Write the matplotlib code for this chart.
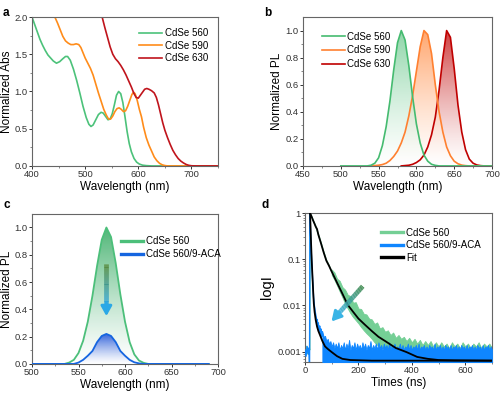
import numpy as np
import matplotlib
matplotlib.use('Agg')
import matplotlib.pyplot as plt
import matplotlib.colors as mcolors
from matplotlib.collections import LineCollection

plt.rcParams['font.family'] = ['Liberation Sans', 'DejaVu Sans']
plt.rcParams['font.size'] = 6.5

# ---- panel a: absorbance ----
a560_x = [400, 405, 410, 415, 420, 425, 430, 435, 440, 446, 452, 458, 463, 467, 472, 478, 484, 490, 496,
          502, 507, 511, 515, 520, 525, 530, 534, 538, 543, 547, 551, 555, 559, 563, 567, 571, 575, 579,
          583, 587, 592, 597, 602, 608, 615, 625, 650, 700, 750]
a560_y = [2.0, 1.9, 1.8, 1.7, 1.62, 1.55, 1.49, 1.45, 1.41, 1.38, 1.40, 1.44, 1.47, 1.47, 1.42, 1.30, 1.15,
          0.98, 0.80, 0.65, 0.56, 0.53, 0.55, 0.62, 0.69, 0.72, 0.71, 0.67, 0.62, 0.63, 0.70, 0.82, 0.95,
          1.00, 0.97, 0.85, 0.66, 0.46, 0.30, 0.19, 0.10, 0.05, 0.025, 0.01, 0.004, 0.0, 0.0, 0.0, 0.0]
a590_x = [443, 448, 453, 458, 463, 468, 473, 478, 483, 488, 492, 496, 500, 505, 510, 515, 520, 525, 530,
          535, 540, 544, 548, 552, 556, 560, 564, 568, 572, 576, 580, 584, 588, 591, 594, 598, 602, 606,
          610, 615, 620, 625, 630, 635, 640, 645, 650, 655, 700, 750]
a590_y = [2.0, 1.92, 1.83, 1.74, 1.68, 1.65, 1.63, 1.63, 1.64, 1.63, 1.59, 1.52, 1.45, 1.38, 1.31, 1.22,
          1.10, 0.98, 0.87, 0.76, 0.68, 0.63, 0.63, 0.67, 0.73, 0.77, 0.78, 0.76, 0.73, 0.74, 0.80, 0.88,
          0.96, 0.99, 0.97, 0.88, 0.76, 0.66, 0.52, 0.38, 0.28, 0.20, 0.12, 0.07, 0.035, 0.015, 0.005,
          0.0, 0.0, 0.0]
a630_x = [532, 537, 542, 547, 552, 557, 562, 567, 572, 577, 582, 587, 592, 596, 600, 604, 608, 612, 616,
          620, 625, 630, 634, 638, 642, 646, 650, 655, 660, 665, 670, 675, 680, 685, 690, 695, 700, 710, 750]
a630_y = [2.0, 1.86, 1.73, 1.60, 1.50, 1.44, 1.40, 1.35, 1.29, 1.22, 1.14, 1.06, 0.97, 0.92, 0.91, 0.95,
          0.99, 1.03, 1.04, 1.03, 1.01, 0.98, 0.92, 0.82, 0.70, 0.58, 0.48, 0.38, 0.29, 0.21, 0.15, 0.10,
          0.065, 0.04, 0.02, 0.008, 0.002, 0.0, 0.0]

# ---- panel b: PL ----
b560_x = [500, 535, 540, 545, 550, 555, 560, 565, 570, 575, 580, 585, 590, 595, 600, 605, 610, 615, 620, 625, 630, 700]
b560_y = [0, 0, 0.005, 0.02, 0.06, 0.15, 0.29, 0.48, 0.71, 0.91, 1.0, 0.93, 0.74, 0.51, 0.31, 0.17, 0.08,
          0.035, 0.012, 0.004, 0, 0]
b590_x = [540, 550, 555, 560, 565, 570, 575, 580, 585, 590, 595, 600, 605, 610, 615, 620, 625, 630, 635,
          640, 645, 650, 655, 660, 665, 670, 700]
b590_y = [0, 0.005, 0.01, 0.02, 0.04, 0.07, 0.11, 0.17, 0.25, 0.37, 0.52, 0.70, 0.88, 1.0, 0.97, 0.83,
          0.60, 0.40, 0.25, 0.14, 0.075, 0.035, 0.016, 0.006, 0.002, 0, 0]
b630_x = [580, 590, 595, 600, 605, 610, 615, 620, 625, 630, 635, 640, 645, 650, 655, 660, 665, 670, 675,
          680, 685, 690, 700]
b630_y = [0, 0.005, 0.012, 0.025, 0.045, 0.08, 0.14, 0.23, 0.36, 0.56, 0.80, 1.0, 0.95, 0.72, 0.45, 0.25,
          0.12, 0.05, 0.02, 0.007, 0.002, 0, 0]

# ---- panel c: quenching ----
c560_x = [500, 535, 540, 545, 550, 555, 560, 565, 570, 575, 580, 585, 590, 595, 600, 605, 610, 615, 620, 625, 690]
c560_y = [0, 0, 0.01, 0.03, 0.08, 0.17, 0.31, 0.50, 0.72, 0.91, 1.0, 0.93, 0.74, 0.51, 0.31, 0.16, 0.07,
          0.025, 0.008, 0, 0]
caca_x = [500, 545, 550, 555, 560, 565, 570, 575, 580, 585, 590, 595, 600, 605, 610, 615, 620, 690]
caca_y = [0, 0, 0.01, 0.03, 0.06, 0.095, 0.16, 0.205, 0.22, 0.205, 0.16, 0.095, 0.06, 0.03, 0.012, 0.004, 0, 0]

# ---- panel d: decay ----
# CdSe 560: rise + early decay, then noisy band (upper / lower edge)
d560_t = [0, 5, 10, 15, 18, 19, 25, 30, 40, 50, 60, 70, 80, 90, 100]
d560_I = [0.0010, 0.0013, 0.0009, 0.0012, 0.0011, 1.0, 0.84, 0.71, 0.52, 0.35, 0.23, 0.145, 0.097, 0.074, 0.054]
d560_bt = [100, 110, 120, 130, 140, 150, 160, 170, 180, 190, 200, 210, 220, 230, 240, 250, 260, 270, 280,
           290, 300, 310, 320, 330, 340, 350, 360, 370, 380, 390, 400, 410, 420, 430, 440, 450, 460, 470,
           480, 490, 500, 510, 520, 530, 540, 550, 560, 570, 580, 590, 600, 610, 620, 630, 640, 650, 660,
           670, 680, 690, 700]
d560_hi = [0.060, 0.052, 0.038, 0.034, 0.025, 0.022, 0.017, 0.016, 0.0115, 0.0118, 0.0086, 0.0084,
           0.0066, 0.0064, 0.0052, 0.0050, 0.0040, 0.0043, 0.0032, 0.0034, 0.0027, 0.0029, 0.0023, 0.0026,
           0.0020, 0.0023, 0.0019, 0.0021, 0.0017, 0.0020, 0.0016, 0.0019, 0.0015, 0.0018, 0.0014, 0.0017,
           0.0014, 0.0017, 0.0013, 0.0016, 0.0013, 0.0016, 0.0013, 0.0015, 0.0012, 0.0016, 0.0013, 0.0015,
           0.0012, 0.0016, 0.0013, 0.0015, 0.0012, 0.0015, 0.0013, 0.0016, 0.0012, 0.0015, 0.0013, 0.0015,
           0.0012]
d560_lo = [0.046, 0.036, 0.027, 0.020, 0.015, 0.011, 0.0086, 0.0068, 0.0056, 0.0048, 0.0041, 0.0034,
           0.0029, 0.0025, 0.0022, 0.0019, 0.0016, 0.0014, 0.0013, 0.0012, 0.0012, 0.0011, 0.0011, 0.0010,
           0.0010, 0.0010, 0.0009, 0.0009, 0.0009, 0.0009, 0.0009, 0.0009, 0.0009, 0.0009, 0.0009, 0.0009,
           0.0009, 0.0009, 0.0009, 0.0009, 0.0009, 0.0009, 0.0009, 0.0009, 0.0009, 0.0009, 0.0009, 0.0009,
           0.0009, 0.0009, 0.0009, 0.0009, 0.0009, 0.0009, 0.0009, 0.0009, 0.0009, 0.0009, 0.0009, 0.0009,
           0.0009]
# CdSe 560/9-ACA: spike + fast decay, then noise floor (upper edge)
daca_t = [0, 4, 8, 12, 15, 17, 18.5, 20, 22, 24, 26, 28, 30, 32, 35, 38, 42, 44, 46, 48, 50, 52, 55, 58,
          60, 63, 65]
daca_I = [0.0011, 0.0008, 0.0013, 0.0009, 0.0012, 0.0004, 1.0, 0.5, 0.22, 0.12, 0.07, 0.04, 0.025, 0.015,
          0.010, 0.0075, 0.0055, 0.0038, 0.0050, 0.0032, 0.0042, 0.0027, 0.0036, 0.0024, 0.0031, 0.0021,
          0.0027]
daca_bt = list(range(65, 701, 5))
daca_hi = [0.0027, 0.0021, 0.0022, 0.0017, 0.0019, 0.0015, 0.0017, 0.0013, 0.0016,
           0.0012, 0.0015, 0.0012, 0.0016, 0.0011, 0.0014, 0.0012, 0.0016, 0.0011, 0.0015, 0.0012, 0.0018,
           0.0011, 0.0014, 0.0012, 0.0016, 0.0011, 0.0015, 0.0012, 0.0014, 0.0011, 0.0016, 0.0012, 0.0015,
           0.0011, 0.0014, 0.0012, 0.0017, 0.0011, 0.0014, 0.0012, 0.0015, 0.0011, 0.0016, 0.0012, 0.0014,
           0.0011, 0.0015, 0.0012, 0.0014, 0.0011, 0.0016, 0.0011, 0.0014, 0.0012, 0.0015, 0.0011, 0.0013,
           0.0012, 0.0015, 0.0011, 0.0014, 0.0011, 0.0013, 0.0012, 0.0015, 0.0011, 0.0014, 0.0011, 0.0013,
           0.0012, 0.0014, 0.0011, 0.0015, 0.0011, 0.0013, 0.0012, 0.0014, 0.0011, 0.0013, 0.0011, 0.0014,
           0.0012, 0.0013, 0.0011, 0.0015, 0.0011, 0.0013, 0.0012, 0.0014, 0.0011, 0.0013, 0.0011, 0.0014,
           0.0012, 0.0013, 0.0011, 0.0014, 0.0011, 0.0013, 0.0012, 0.0014, 0.0011, 0.0013, 0.0011, 0.0014,
           0.0012, 0.0013, 0.0011, 0.0014, 0.0011, 0.0013, 0.0012, 0.0014, 0.0011, 0.0013, 0.0011, 0.0014,
           0.0012, 0.0013, 0.0011, 0.0014, 0.0011, 0.0013, 0.0012, 0.0014, 0.0011, 0.0013, 0.0011]
fit560_t = [19, 25, 30, 35, 40, 45, 50, 60, 70, 80, 90, 100, 120, 140, 160, 180, 200, 225, 250, 275, 300,
            340, 380, 420, 460, 500, 560, 700]
fit560_I = [1.0, 0.83, 0.70, 0.60, 0.51, 0.45, 0.34, 0.22, 0.14, 0.093, 0.072, 0.054, 0.031, 0.018, 0.0103,
            0.0073, 0.0052, 0.0038, 0.0028, 0.0021, 0.0017, 0.0012, 0.00098, 0.00077, 0.0007, 0.00066,
            0.00065, 0.00064]
fitaca_t = [19, 21, 23, 25, 27, 29, 31, 33, 36, 40, 45, 50, 56, 65, 75, 85, 100, 120, 140, 170, 250, 700]
fitaca_I = [1.0, 0.45, 0.2, 0.1, 0.055, 0.032, 0.018, 0.011, 0.0072, 0.0049, 0.0035, 0.0028, 0.0023,
            0.0017, 0.0013, 0.00115, 0.00098, 0.0008, 0.0007, 0.00066, 0.00064, 0.00064]


def grad_fill(ax, x, y, color, alpha=0.75, zorder=2):
    x = np.asarray(x, float)
    y = np.asarray(y, float)
    rgb = np.array(mcolors.to_rgb(color))
    t = np.linspace(0, 1, 256)[:, None] ** 1.3
    img = np.zeros((256, 1, 4))
    img[:, 0, :3] = 1 - t * (1 - rgb)
    img[:, 0, 3] = alpha
    im = ax.imshow(img, aspect='auto', origin='lower', interpolation='bilinear',
                   extent=[x.min(), x.max(), 0, y.max()], zorder=zorder)
    poly = ax.fill_between(x, y, 0, facecolor='none', edgecolor='none')
    im.set_clip_path(poly.get_paths()[0], transform=ax.transData)


def grad_arrow(ax, x0, y0, x1, y1, c0, c1, logy=False, lw=3.2, hw=0.45, hl=0.7, zorder=6):
    n = 40
    s = np.linspace(0, 0.8, n)
    xs = x0 + (x1 - x0) * s
    if logy:
        ys = 10 ** (np.log10(y0) + (np.log10(y1) - np.log10(y0)) * s)
    else:
        ys = y0 + (y1 - y0) * s
    pts = np.column_stack([xs, ys])
    segs = np.stack([pts[:-1], pts[1:]], axis=1)
    cols = [tuple(np.array(mcolors.to_rgb(c0)) * (1 - u) + np.array(mcolors.to_rgb(c1)) * u)
            for u in np.linspace(0, 1, n - 1)]
    ax.add_collection(LineCollection(segs, colors=cols, linewidths=lw, zorder=zorder, capstyle='butt'))
    ax.annotate('', xy=(x1, y1), xytext=(xs[-4], ys[-4]), zorder=zorder,
                arrowprops=dict(arrowstyle='-|>,head_length=%g,head_width=%g' % (hl, hw),
                                color=c1, lw=lw * 0.6, shrinkA=0, shrinkB=0))


def style(ax):
    for sp in ax.spines.values():
        sp.set_color('#666666')
        sp.set_linewidth(0.8)
    ax.tick_params(direction='out', length=2.0, width=0.7, colors='#333333', labelsize=6.8, pad=1.0)
    ax.tick_params(which='minor', direction='out', length=1.2, width=0.5, colors='#555555')


fig = plt.figure(figsize=(5.0, 3.96), dpi=100)
ax_a = fig.add_axes([0.064, 0.581, 0.372, 0.376])
ax_b = fig.add_axes([0.606, 0.581, 0.378, 0.376])
ax_c = fig.add_axes([0.064, 0.081, 0.372, 0.379])
ax_d = fig.add_axes([0.610, 0.086, 0.374, 0.376])

lab_kw = dict(fontsize=8.5, labelpad=1.5)
leg_kw = dict(loc='upper left', frameon=False, fontsize=7, handlelength=2.3, handletextpad=0.3)

# a
ax_a.plot(a560_x, a560_y, color='#4cc27a', lw=1.2, label='CdSe 560')
ax_a.plot(a590_x, a590_y, color='#ff8c1a', lw=1.2, label='CdSe 590')
ax_a.plot(a630_x, a630_y, color='#c0141c', lw=1.2, label='CdSe 630')
ax_a.set_xlim(400, 750)
ax_a.set_ylim(0, 2.0)
ax_a.set_xticks([400, 500, 600, 700])
ax_a.set_xticks([450, 550, 650, 750], minor=True)
ax_a.set_yticks([0, 0.5, 1.0, 1.5, 2.0])
ax_a.set_yticks([0.25, 0.75, 1.25, 1.75], minor=True)
ax_a.set_xlabel('Wavelength (nm)', **lab_kw)
ax_a.set_ylabel('Normalized Abs', **lab_kw)
ax_a.legend(bbox_to_anchor=(0.53, 0.985), labelspacing=0.28, **leg_kw)

# b
for xs, ys, col, lab, al in [(b630_x, b630_y, '#c00000', 'CdSe 630', 0.75),
                             (b590_x, b590_y, '#ff8030', 'CdSe 590', 0.7),
                             (b560_x, b560_y, '#45bb70', 'CdSe 560', 0.6)]:
    grad_fill(ax_b, xs, ys, col, alpha=al)
    ax_b.plot(xs, ys, color=col, lw=1.2, label=lab, zorder=3)
ax_b.set_xlim(450, 700)
ax_b.set_ylim(0, 1.1)
ax_b.set_xticks(range(450, 701, 50))
ax_b.set_xticks(range(475, 700, 50), minor=True)
ax_b.set_yticks([0, 0.2, 0.4, 0.6, 0.8, 1.0])
ax_b.set_yticks([0.1, 0.3, 0.5, 0.7, 0.9], minor=True)
ax_b.set_xlabel('Wavelength (nm)', **lab_kw)
ax_b.set_ylabel('Normalized PL', **lab_kw)
h, l = ax_b.get_legend_handles_labels()
ax_b.legend(h[::-1], l[::-1], bbox_to_anchor=(0.055, 0.96), labelspacing=0.38, **leg_kw)

# c
grad_fill(ax_c, c560_x, c560_y, '#3cae68', alpha=0.9)
ax_c.plot(c560_x, c560_y, color='#4cbf7a', lw=1.3, label='CdSe 560', zorder=3)
grad_fill(ax_c, caca_x, caca_y, '#1a50d8', alpha=0.9, zorder=4)
ax_c.plot(caca_x, caca_y, color='#1565e0', lw=1.3, label='CdSe 560/9-ACA', zorder=5)
grad_arrow(ax_c, 580, 0.73, 580, 0.35, '#5a8a3c', '#2aa8e6', lw=3.4, hw=0.5, hl=0.9)
ax_c.set_xlim(500, 700)
ax_c.set_ylim(0, 1.1)
ax_c.set_xticks(range(500, 701, 50))
ax_c.set_xticks(range(525, 700, 50), minor=True)
ax_c.set_yticks([0, 0.2, 0.4, 0.6, 0.8, 1.0])
ax_c.set_yticks([0.1, 0.3, 0.5, 0.7, 0.9], minor=True)
ax_c.set_xlabel('Wavelength (nm)', **lab_kw)
ax_c.set_ylabel('Normalized PL', **lab_kw)
leg = ax_c.legend(bbox_to_anchor=(0.43, 0.91), labelspacing=0.3, **leg_kw)
for ln in leg.get_lines():
    ln.set_linewidth(2.4)

# d
g_col = '#74cf95'
b_col = '#0f86ff'
ax_d.plot(d560_t, d560_I, color=g_col, lw=1.0, label='CdSe 560', zorder=2)
ax_d.fill_between(d560_bt, d560_lo, d560_hi, color=g_col, lw=0.6, zorder=2)
ax_d.plot(daca_t, daca_I, color=b_col, lw=1.0, label='CdSe 560/9-ACA', zorder=3)
ax_d.fill_between(daca_bt, 1e-4, daca_hi, color=b_col, lw=0.6, zorder=3)
ax_d.plot(fit560_t, fit560_I, color='black', lw=1.3, label='Fit', zorder=4)
ax_d.plot(fitaca_t, fitaca_I, color='black', lw=1.3, zorder=4)
grad_arrow(ax_d, 216, 0.026, 99, 0.0045, '#3f8a4e', '#3ab4e6', logy=True, lw=3.4, hw=0.5, hl=0.9)
ax_d.set_yscale('log')
ax_d.set_xlim(0, 700)
ax_d.set_ylim(0.0006, 1)
ax_d.set_xticks([0, 200, 400, 600])
ax_d.set_xticks([100, 300, 500, 700], minor=True)
ax_d.set_yticks([0.001, 0.01, 0.1, 1])
ax_d.set_yticklabels(['0.001', '0.01', '0.1', '1'])
ax_d.set_xlabel('Times (ns)', **lab_kw)
ax_d.set_ylabel('logI', fontsize=10.5, labelpad=2)
leg = ax_d.legend(bbox_to_anchor=(0.36, 0.96), labelspacing=0.25, **leg_kw)
for ln in leg.get_lines():
    ln.set_linewidth(2.4)

for ax in (ax_a, ax_b, ax_c, ax_d):
    style(ax)

fig.text(0.006, 0.982, 'a', fontsize=8.5, fontweight='bold', va='top')
fig.text(0.528, 0.982, 'b', fontsize=8.5, fontweight='bold', va='top')
fig.text(0.006, 0.497, 'c', fontsize=8.5, fontweight='bold', va='top')
fig.text(0.522, 0.497, 'd', fontsize=8.5, fontweight='bold', va='top')

fig.savefig('out.png', dpi=100)
